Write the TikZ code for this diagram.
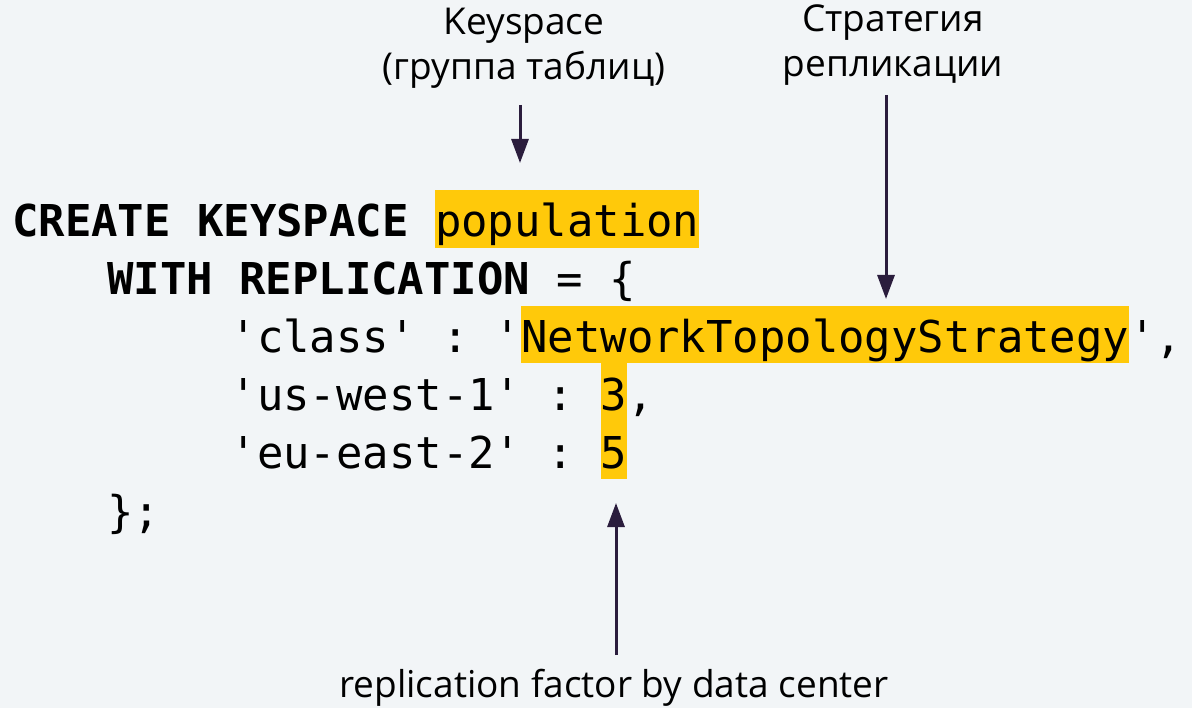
\documentclass[tikz,border=0pt]{standalone}
\usepackage{fontspec}
\setmainfont{Open Sans}
\setmonofont{DejaVu Sans Mono}
\usetikzlibrary{arrows.meta}
\definecolor{bg}{HTML}{F2F5F7}
\definecolor{hl}{HTML}{FFC90A}
\definecolor{ink}{HTML}{2B1D3D}

\begin{document}
\begin{tikzpicture}[x=1pt,y=-1pt,
  code/.style={anchor=base west, inner sep=0pt, font=\ttfamily\fontsize{43.9}{50}\selectfont},
  note/.style={align=center, inner sep=0pt, font=\fontsize{37}{45}\selectfont},
  pointer/.style={ink, line width=3pt, -{Triangle[width=17pt,length=24pt]}},
  mark yellow/.style={fill=hl}]
% canvas
\fill[bg] (0,0) rectangle (1192,708);
\useasboundingbox (0,0) rectangle (1192,708);

% highlighted tokens (one character = 26.43 units)
\fill[mark yellow] (434.9,190) rectangle (699.2,248);   % population
\fill[mark yellow] (521.0,306) rectangle (1128.9,363);  % NetworkTopologyStrategy
\fill[mark yellow] (601.0,363) rectangle (627.4,479);   % replication factors

% CQL statement
\node[code] (l1) at (12,237)    {\bfseries CREATE KEYSPACE \mdseries population};
\node[code] (l2) at (107,295)   {\bfseries WITH REPLICATION \mdseries= \{};
\node[code] (l3) at (230.5,353) {'class' : 'NetworkTopologyStrategy',};
\node[code] (l4) at (230.5,411) {'us-west-1' : 3,};
\node[code] (l5) at (230.5,469) {'eu-east-2' : 5};
\node[code] (l6) at (107,527)   {\};};

% annotations (base = baseline of the last line)
\node[note, anchor=base] (ks) at (524,80) {Keyspace\\(группа таблиц)};
\node[note, anchor=base] (st) at (893,77) {Стратегия\\репликации};
\node[note, anchor=base] (rf) at (614,697) {replication factor by data center};

% pointers
\coordinate (ksA) at (520,105);  \coordinate (ksB) at (520,163);
\coordinate (stA) at (886,95);   \coordinate (stB) at (886,299);
\coordinate (rfA) at (616,655);  \coordinate (rfB) at (616,503);
\draw[pointer] (ksA) -- (ksB);
\draw[pointer] (stA) -- (stB);
\draw[pointer] (rfA) -- (rfB);
\end{tikzpicture}
\end{document}
